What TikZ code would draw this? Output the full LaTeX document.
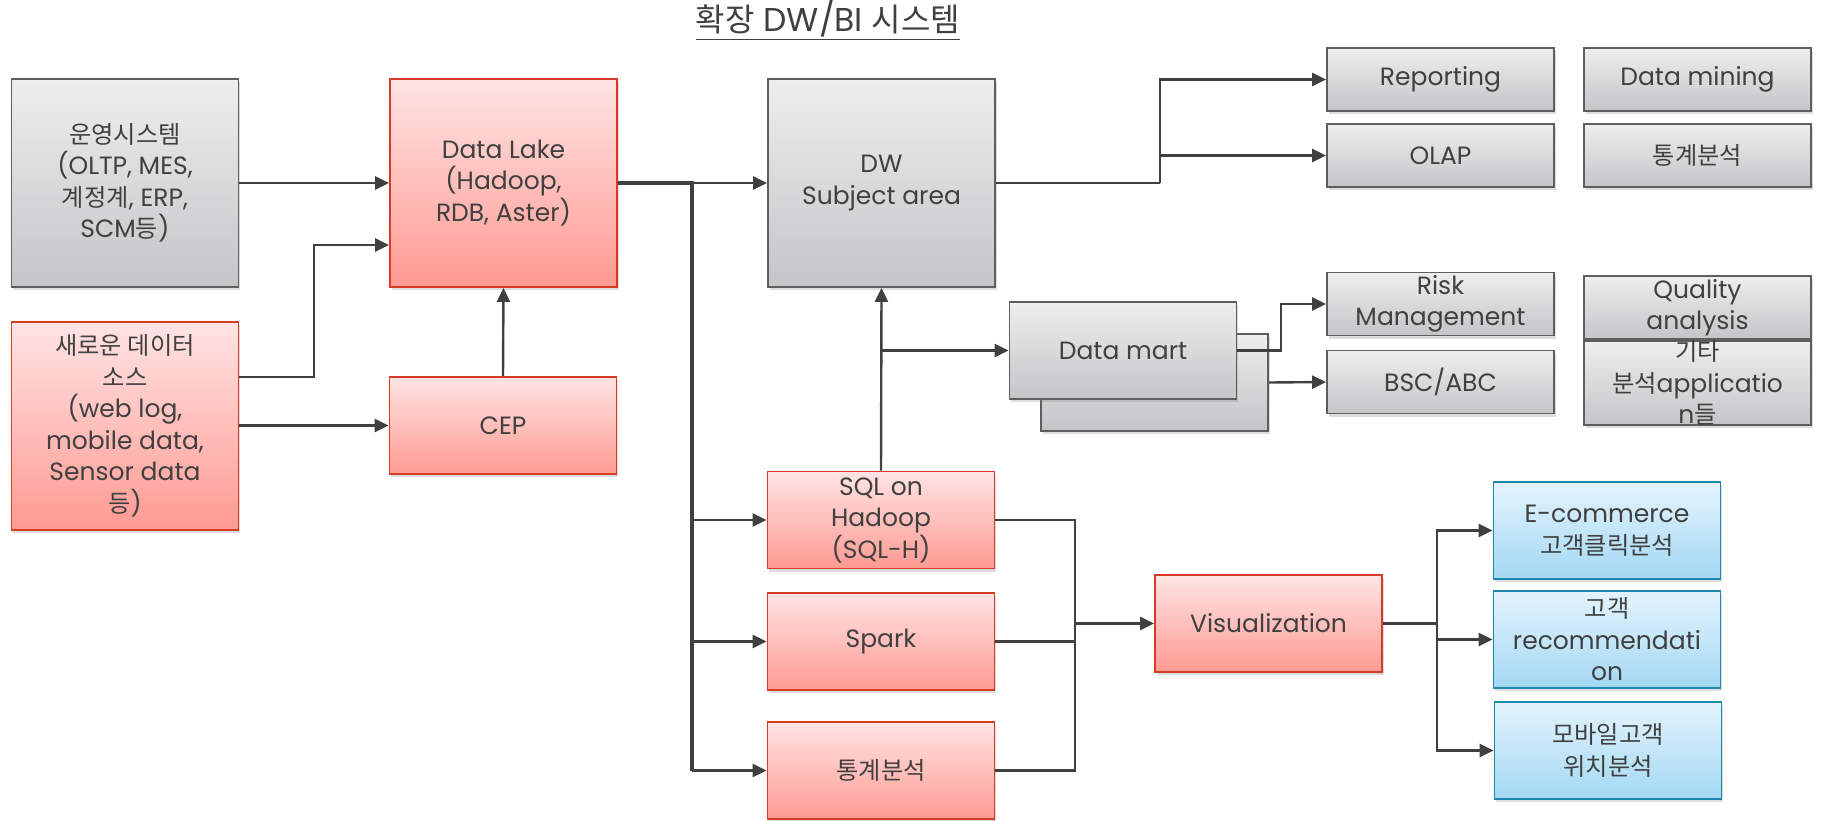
\documentclass[tikz,border=0pt]{standalone}
\usepackage{fontspec}
\setmainfont{Poppins}
\newfontfamily\kr{Noto Sans CJK KR}[Scale=0.97]
\usetikzlibrary{arrows.meta,shadows}

\definecolor{txt}{HTML}{404040}
\definecolor{wire}{HTML}{404040}
\definecolor{graytop}{HTML}{EEEEEE}
\definecolor{graybot}{HTML}{C4C5C7}
\definecolor{grayline}{HTML}{5E5E5E}
\definecolor{redtop}{HTML}{FFE4E4}
\definecolor{redbot}{HTML}{FF9A92}
\definecolor{redline}{HTML}{D63C25}
\definecolor{bluetop}{HTML}{E4F4FC}
\definecolor{bluebot}{HTML}{A3D8F4}
\definecolor{blueline}{HTML}{1C88AC}

\newcommand\ko[1]{{\kr #1}}

\begin{document}
\begin{tikzpicture}[x=1pt,y=-1pt,
  box/.style={rectangle, line width=1.8pt, inner sep=0pt, align=center,
    text=txt, font=\fontsize{25}{31.5}\selectfont,
    drop shadow={shadow xshift=1.5pt, shadow yshift=-3pt, opacity=.28}},
  graybox/.style={box, draw=grayline, top color=graytop, bottom color=graybot},
  redbox/.style={box, draw=redline, top color=redtop, bottom color=redbot},
  bluebox/.style={box, draw=blueline, top color=bluetop, bottom color=bluebot},
  big/.style={minimum width=227pt, minimum height=208pt},
  mid/.style={minimum width=227pt, minimum height=97pt},
  small/.style={minimum width=227pt, minimum height=63pt},
  wireline/.style={draw=wire, line width=2.4pt},
  trunk/.style={draw=wire, line width=3.8pt},
  arr/.style={wireline, -{Triangle[length=14pt,width=13pt]}}
]
\useasboundingbox (0,0) rectangle (1822,820);

% title
\node[text=txt, font=\fontsize{33}{36}\selectfont, inner sep=0pt] (title) at (828,20)
  {\underline{\ko{확장} DW/BI \ko{시스템}}};

% sources and storage
\node[graybox, big] (sys) at (125,183)
  {\ko{운영시스템}\\(OLTP, MES,\\\ko{계정계}, ERP,\\SCM\ko{등})};
\node[redbox, big] (lake) at (503.5,183) {Data Lake\\(Hadoop,\\RDB, Aster)};
\node[graybox, big] (dw) at (881.5,183) {DW\\Subject area};
\node[redbox, big] (newsrc) at (125,426)
  {\ko{새로운 데이터}\\\ko{소스}\\(web log,\\mobile data,\\Sensor data\\\ko{등})};
\node[redbox, mid] (cep) at (503,425.5) {CEP};

% analysis targets
\node[graybox, small] (rep) at (1440.5,79.5) {Reporting};
\node[graybox, small] (olap) at (1440.5,155.5) {OLAP};
\node[graybox, small] (mining) at (1697.5,79.5) {Data mining};
\node[graybox, small] (stat1) at (1697.5,155.5) {\ko{통계분석}};
\node[graybox, small] (risk) at (1440.5,304) {Risk\\Management};
\node[graybox, small] (bsc) at (1440.5,382) {BSC/ABC};
\node[graybox, small] (quality) at (1697.5,307.5) {Quality\\analysis};
\node[graybox, small] (etc) at (1697.5,383) {\ko{기타}\\\ko{분석}applicatio\\n\ko{들}};

% data marts (stacked)
\node[graybox, mid] (martback) at (1154.5,382.5) {};
\node[graybox, mid] (mart) at (1123,350.5) {Data mart};

% processing engines
\node[redbox, mid] (sql) at (881,520) {SQL on\\Hadoop\\(SQL-H)};
\node[redbox, mid] (spark) at (881,641.5) {Spark};
\node[redbox, mid] (stat2) at (881,770.5) {\ko{통계분석}};
\node[redbox, mid] (vis) at (1268.5,623.5) {Visualization};

% applications
\node[bluebox, mid] (ecom) at (1607,530.5) {E-commerce\\\ko{고객클릭분석}};
\node[bluebox, mid] (rec) at (1607,639.5) {\ko{고객}\\recommendati\\on};
\node[bluebox, mid] (mob) at (1608,750.5) {\ko{모바일고객}\\\ko{위치분석}};

% junction points
\coordinate (b1) at (314,377);
\coordinate (b2) at (314,245);
\coordinate (t0) at (692,183);
\coordinate (t1) at (692,770.5);
\coordinate (dj) at (1160,183);
\coordinate (mj) at (1281,350.5);
\coordinate (vj) at (1075,623.5);
\coordinate (ej) at (1437,623.5);

% sources into the lake
\draw[arr] (sys.east) -- (lake.west);
\draw[arr] (newsrc.east |- b1) -- (b1) -- (b2) -- (lake.west |- b2);
\draw[arr] (newsrc.east |- cep.west) -- (cep.west);
\draw[arr] (cep.north) -- (lake.south);

% lake to warehouse and engines
\draw[trunk] (lake.east) -- (t0) -- (t1);
\draw[arr] (t0) -- (dw.west);
\draw[arr] (t0 |- sql.west) -- (sql.west);
\draw[arr] (t0 |- spark.west) -- (spark.west);
\draw[arr] (t1) -- (stat2.west);

% warehouse feeds
\draw[arr] (sql.north) -- (dw.south);
\draw[arr] (dw.south |- mart.west) -- (mart.west);
\draw[wireline] (dw.east) -- (dj);
\draw[arr] (dj) |- (rep.west);
\draw[arr] (dj) |- (olap.west);
\draw[arr] (mart.east) -- (mj) |- (risk.west);
\draw[arr] (martback.east) -- (bsc.west);

% engines to visualization
\draw[wireline] (sql.east) -| (vj);
\draw[wireline] (stat2.east) -| (vj);
\draw[wireline] (spark.east) -- (spark.east -| vj);
\draw[arr] (vj) -- (vis.west);

% visualization to applications
\draw[wireline] (vis.east) -- (ej);
\draw[arr] (ej) |- (ecom.west);
\draw[arr] (ej) |- (rec.west);
\draw[arr] (ej) |- (mob.west);
\end{tikzpicture}
\end{document}
